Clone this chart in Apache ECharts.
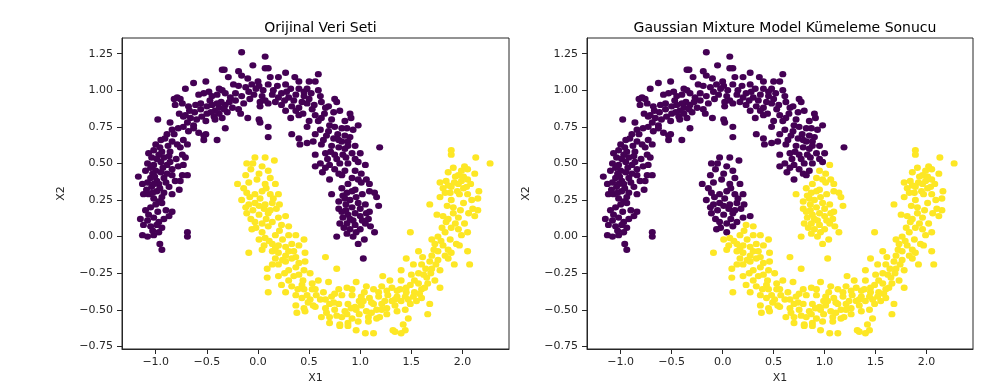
<!DOCTYPE html>
<html>
<head>
<meta charset="utf-8">
<script src="https://cdn.jsdelivr.net/npm/echarts@6/dist/echarts.min.js"></script>
<style>
html,body{margin:0;padding:0;background:#fff;}
#chart{width:1003px;height:389px;}
</style>
</head>
<body>
<div id="chart"></div>
<script>
// ---- Data ----
const titles = ['Orijinal Veri Seti', 'Gaussian Mixture Model Kümeleme Sonucu'];
const xName = 'X1';
const yName = 'X2';
const xTicks = [-1.0, -0.5, 0.0, 0.5, 1.0, 1.5, 2.0];
const yTicks = [-0.75, -0.5, -0.25, 0.0, 0.25, 0.5, 0.75, 1.0, 1.25];

// upper moon, purple in both panels
const upperMain = [
[-0.16,1.26],[0.07,1.23],[-0.05,1.17],[-0.35,1.14],[-0.33,1.14],[-0.19,1.13],[0.07,1.15],[0.10,1.15],[0.27,1.12],[-0.51,1.06],[-0.63,1.05],[-0.71,1.01],[-0.79,0.95],[-0.82,0.94],[-0.98,0.80],
[-0.29,1.09],[-0.16,1.10],[-0.10,1.08],[0.00,1.06],[0.12,1.09],[0.20,1.09],[0.36,1.09],[0.40,1.06],[0.50,1.06],
[-0.48,0.99],[-0.38,1.01],[-0.35,1.00],[-0.24,1.04],[-0.19,1.03],[-0.12,1.02],[-0.06,1.04],[0.01,1.03],[0.10,1.04],[0.19,1.03],[0.27,1.04],[0.32,1.01],[0.40,1.01],[0.48,1.01],
[-0.58,0.97],[-0.53,0.98],[-0.45,0.96],[-0.40,0.97],[-0.32,0.98],[-0.27,0.95],[-0.22,0.98],[-0.16,0.96],[-0.09,0.99],[-0.04,0.97],[0.04,0.96],[0.14,0.97],[0.20,0.95],[0.23,0.98],[0.30,0.95],[0.37,0.97],[0.45,0.96],[0.50,0.94],[-0.76,0.94],
[-0.81,0.90],[-0.74,0.91],[-0.68,0.89],[-0.61,0.90],[-0.56,0.91],[-0.50,0.89],[-0.45,0.90],[-0.38,0.88],[-0.32,0.90],[-0.25,0.88],[-0.19,0.87],[0.02,0.89],[0.10,0.91],[0.23,0.90],[0.33,0.89],[0.40,0.88],[0.48,0.91],[0.53,0.87],[0.02,0.92],
[-0.77,0.84],[-0.73,0.82],[-0.66,0.81],[-0.56,0.87],[-0.55,0.82],[-0.50,0.84],[-0.43,0.82],[-0.38,0.84],[-0.35,0.81],[-0.17,0.84],[-0.10,0.81],[0.01,0.80],[0.02,0.78],[0.32,0.81],[0.40,0.83],[0.50,0.79],[-0.69,0.78],[-0.63,0.76],[-0.51,0.79],[-0.42,0.80],[0.48,0.75],
[-0.89,0.70],[-0.84,0.73],[-0.78,0.74],[-0.73,0.75],[-0.68,0.72],[-0.63,0.74],[-0.58,0.71],[-0.51,0.70],[-0.40,0.66],[-0.32,0.74],[0.10,0.75],[0.10,0.68],[0.33,0.70],[0.40,0.67],[0.48,0.64],[0.54,0.65],[-0.53,0.66],[-0.53,0.69],[0.41,0.63],
[-1.00,0.63],[-0.95,0.66],[-0.91,0.67],[-0.84,0.65],[-0.79,0.63],[-0.73,0.66],[-0.69,0.63],[-0.76,0.61],[-1.02,0.59],[-0.94,0.58],[-0.86,0.58],
[-1.07,0.57],[-1.04,0.54],[-0.97,0.56],[-0.92,0.54],[-0.87,0.55],[-0.80,0.53],[-0.74,0.56],[-0.71,0.54],[-1.08,0.50],[-1.02,0.49],[-0.95,0.51],[-0.89,0.49],[-0.84,0.46],[-0.78,0.48],[-0.73,0.49],[-1.00,0.45],
[-1.17,0.41],[-1.10,0.45],[-1.05,0.40],[-0.99,0.38],[-0.92,0.40],[-0.84,0.42],[-0.74,0.42],[-0.69,0.42],[-1.13,0.36],[-1.04,0.34],[-0.97,0.36],[-0.87,0.34],[-0.81,0.38],[-0.76,0.38],[-1.12,0.29],[-1.07,0.29],[-0.99,0.31],[-0.92,0.30],[-0.84,0.29],[-0.94,0.27],
[0.59,1.11],[0.56,1.06],[0.59,1.00],[0.61,0.96],[0.62,0.92],[0.75,0.94],[0.77,0.92],[0.69,0.89],[0.66,0.88],[0.74,0.85],[0.56,0.83],[0.62,0.81],[0.90,0.84],[0.91,0.81],[0.59,0.79],[0.70,0.76],[0.75,0.75],[0.61,0.73],[0.69,0.72],[0.82,0.74],[0.87,0.74],[0.98,0.76],[0.90,0.68],[0.56,0.70],[0.67,0.69],[0.74,0.67],[0.82,0.65],[0.88,0.65],[1.19,0.61],[0.62,0.63],[0.72,0.62],[0.79,0.61],[0.88,0.62],[1.00,0.57],[0.56,0.56],[0.66,0.57],[0.75,0.56],[0.83,0.56],[0.92,0.57],[0.61,0.50],[0.70,0.49],[0.80,0.50],[0.88,0.50],[0.98,0.51],[0.56,0.48],[0.66,0.47],[0.75,0.46],[0.85,0.45],[0.70,0.39],[0.82,0.42],
[-0.77,0.32],[-1.02,0.26],[-0.97,0.24],[-1.00,0.22],[-0.94,0.23],[-0.90,0.18],[-0.84,0.17],[-0.87,0.14],[-1.07,0.15],[-1.15,0.12],[-1.08,0.11],[-1.02,0.13],[-0.97,0.10],[-1.12,0.08],[-1.05,0.07],[-0.99,0.08],[-0.94,0.06],[-1.13,0.01],[-1.08,0.00],[-1.02,0.01],[-0.69,0.03],[-0.69,0.00],[-0.96,-0.05],[-0.94,-0.09],[-1.05,0.20],[-0.98,0.17],[-1.10,0.18],[-1.03,0.04],[-0.97,0.03],[-0.92,0.12],
[-0.47,0.93],[-0.42,0.86],[-0.36,0.92],[-0.30,0.85],[-0.28,0.92],[-0.46,0.85],[-0.40,0.91],[-0.33,0.87],[-0.22,0.93],[-0.14,0.91],[-0.08,0.94],[-0.02,1.01],[0.05,1.00],[0.07,0.93],[0.15,1.00],[0.17,0.92],[0.26,0.93],[0.28,0.99],[0.35,0.93],[0.43,0.92],[0.45,0.99],[0.52,0.98],[0.37,0.86],[0.44,0.84],[0.27,0.86],[0.55,0.90],[-0.62,0.85],[-0.60,0.80],[-0.67,0.86],[-0.71,0.83],[-0.86,0.78],[-0.82,0.70],[-0.88,0.62],[-0.96,0.61],[-0.99,0.53],[-0.93,0.47],[-0.86,0.51],[-1.05,0.47],[-1.03,0.43],[-0.95,0.44],[-0.89,0.43],[-1.08,0.37],[-1.01,0.41],[-0.90,0.37],[-1.09,0.32],[-1.02,0.36],[-1.03,0.30],[-0.96,0.33],
[0.65,0.84],[0.72,0.80],[0.80,0.86],[0.85,0.79],[0.78,0.70],[0.85,0.69],[0.93,0.73],[0.64,0.66],[0.71,0.58],[0.79,0.66],[0.85,0.60],[0.95,0.62],[0.68,0.53],[0.77,0.53],[0.86,0.54],[0.95,0.53],[0.79,0.43],[0.63,0.44]
];
// upper moon right end: purple in original, yellow in GMM result
const upperTail = [
[1.05,0.49],[0.95,0.45],[1.01,0.43],[0.92,0.40],[0.98,0.39],[1.06,0.39],[0.88,0.36],[1.01,0.37],[1.09,0.36],[0.87,0.30],[1.09,0.31],
[0.72,0.29],[0.83,0.28],[0.92,0.31],[0.95,0.32],[1.14,0.30],[1.16,0.27],[0.79,0.24],[0.85,0.26],[0.98,0.23],[1.05,0.22],[1.18,0.21],[0.79,0.19],[0.88,0.15],[0.83,0.13],[0.80,0.09],[0.87,0.09],[0.93,0.11],[1.00,0.14],[1.05,0.09],[1.09,0.17],[0.96,0.03],[1.14,0.03],[0.77,0.00],[0.93,0.00],[0.98,-0.05],[1.04,-0.02],[1.03,-0.15],
[0.90,0.12],[0.95,0.08],[1.02,0.11],[0.86,0.18],[0.92,0.20],[1.00,0.19],[1.08,0.12],[0.84,0.06],
[0.82,0.33],[0.90,0.25],[0.96,0.27],[1.02,0.29],[0.86,0.22],[0.95,0.16],[1.06,0.16],[0.82,0.17],[0.90,0.05],[1.00,0.05],[1.10,0.07],[0.87,0.02]
];
// lower moon left end: yellow in original, purple in GMM result
const lowerTail = [
[-0.03,0.54],[0.07,0.54],[-0.11,0.50],[0.16,0.52],[-0.07,0.46],[0.01,0.43],[0.10,0.45],[-0.20,0.36],[-0.09,0.37],[-0.01,0.39],[0.07,0.36],[0.17,0.36],[-0.11,0.30],[-0.03,0.29],[0.04,0.31],[0.12,0.29],[0.20,0.29],
[-0.16,0.25],[-0.09,0.22],[-0.03,0.23],[0.07,0.22],[0.14,0.23],[-0.11,0.16],[0.01,0.15],[0.10,0.16],[0.20,0.13],[0.27,0.14],[-0.03,0.10],[0.04,0.09],[0.14,0.10],[-0.06,0.05],[0.04,0.03],[0.10,0.07],
[-0.05,0.18],[0.06,0.19],[0.02,0.26],[-0.07,0.12],[0.18,0.19],[0.08,0.12],
[-0.12,0.42],[-0.05,0.50],[0.04,0.48],[0.12,0.40],[-0.14,0.33],[0.08,0.33],[-0.08,0.27],[0.15,0.26],[0.01,0.21],[-0.12,0.20],[0.12,0.18],[-0.02,0.06],[0.21,0.22]
];
// lower moon, yellow in both panels
const lowerMain = [
[0.23,0.08],[0.17,0.01],[0.30,0.07],[0.30,0.01],[0.37,0.01],[0.45,-0.02],[0.01,-0.02],[0.07,-0.01],[0.14,-0.05],[0.20,-0.06],[0.27,-0.07],[0.33,-0.05],[0.40,-0.06],[-0.09,-0.11],[0.04,-0.09],[0.14,-0.10],[0.20,-0.11],[0.27,-0.13],[0.35,-0.10],[0.46,-0.11],[0.17,-0.15],[0.27,-0.17],[0.33,-0.15],[0.40,-0.18],[0.46,-0.17],[0.09,-0.22],[0.20,-0.19],[0.30,-0.23],[0.37,-0.21],[0.45,-0.23],[0.09,-0.28],[0.20,-0.27],[0.30,-0.30],[0.40,-0.26],[0.51,-0.25],[0.23,-0.33],[0.33,-0.34],[0.43,-0.33],[0.53,-0.32],[0.10,-0.38],[0.27,-0.38],[0.37,-0.40],[0.45,-0.36],[0.53,-0.36],[0.43,-0.42],[0.51,-0.43],[0.37,-0.47],[0.45,-0.49],[0.54,-0.47],[0.38,-0.52],[0.46,-0.51],
[1.89,0.59],[1.89,0.56],[2.13,0.54],[2.27,0.50],[1.91,0.47],[2.02,0.48],[2.05,0.46],[1.86,0.44],[1.96,0.42],[2.01,0.41],[2.12,0.43],[1.78,0.37],[1.84,0.38],[1.92,0.37],[1.99,0.38],[2.05,0.39],[1.81,0.33],[1.89,0.34],[1.96,0.36],[2.04,0.34],[1.88,0.30],[1.97,0.29],[2.05,0.29],[2.16,0.31],[1.78,0.27],
[1.68,0.22],[1.89,0.25],[2.01,0.23],[2.09,0.25],[2.15,0.26],[2.10,0.19],[2.15,0.18],[1.75,0.15],[1.81,0.14],[1.84,0.10],[1.91,0.16],[1.96,0.13],[2.02,0.09],[2.12,0.14],[1.49,0.03],[1.70,-0.02],[1.76,0.00],[1.83,0.03],[1.89,0.06],[1.96,0.05],[1.99,0.01],[2.05,0.03],[1.73,-0.05],[1.81,-0.06],[1.88,-0.02],[1.94,-0.05],[1.97,-0.06],[2.05,-0.10],[1.57,-0.10],[1.61,-0.14],[1.70,-0.13],[1.76,-0.10],[1.83,-0.13],[1.89,-0.11],[1.68,-0.17],[1.76,-0.16],[1.86,-0.15],[1.92,-0.19],[2.07,-0.19],[1.45,-0.15],[1.52,-0.19],[1.60,-0.19],[1.70,-0.22],[1.78,-0.23],[0.66,-0.14],[0.77,-0.22],[1.40,-0.23],[1.50,-0.26],[1.57,-0.25],[1.65,-0.28],[1.73,-0.30],[1.22,-0.27],[1.29,-0.30],[1.40,-0.30],[1.49,-0.33],[1.57,-0.32],[1.66,-0.32],[1.78,-0.35],
[0.59,-0.30],[0.69,-0.31],[0.79,-0.36],[0.87,-0.35],[0.96,-0.31],[1.06,-0.34],[1.13,-0.36],[1.21,-0.34],[1.31,-0.35],[1.39,-0.36],[1.45,-0.35],[1.53,-0.38],[1.60,-0.36],[0.56,-0.36],[0.64,-0.38],[0.72,-0.41],[0.82,-0.40],[0.92,-0.40],[1.01,-0.41],[1.09,-0.42],[1.18,-0.41],[1.27,-0.40],[1.36,-0.41],[1.44,-0.41],[1.52,-0.41],[1.60,-0.42],[0.61,-0.43],[0.70,-0.46],[0.79,-0.46],[0.88,-0.46],[0.95,-0.48],[1.03,-0.44],[1.13,-0.46],[1.21,-0.46],[1.31,-0.44],[1.40,-0.44],[1.49,-0.46],[1.68,-0.46],[0.56,-0.48],[0.66,-0.49],[0.75,-0.50],[0.85,-0.51],[0.96,-0.50],[1.06,-0.51],[1.16,-0.50],[1.26,-0.49],[1.34,-0.47],[1.44,-0.50],[0.62,-0.55],[0.70,-0.55],[0.82,-0.55],[0.92,-0.56],[0.99,-0.53],[1.08,-0.55],[1.16,-0.56],[1.26,-0.53],[1.36,-0.51],[1.66,-0.53],[0.70,-0.59],[0.80,-0.60],[0.88,-0.59],[0.98,-0.58],[1.08,-0.58],[1.19,-0.55],[1.47,-0.56],[0.80,-0.61],[0.88,-0.61],[0.96,-0.64],[1.05,-0.66],[1.13,-0.66],[1.32,-0.64],[1.42,-0.60],[1.44,-0.64],[1.34,-0.65],[1.40,-0.66],
[0.21,0.04],[0.11,-0.03],[0.24,-0.02],[0.06,-0.06],[0.17,-0.08],[0.30,-0.10],[0.24,-0.16],[0.37,-0.14],[0.14,-0.19],[0.35,-0.27],[0.26,-0.25],[0.44,-0.30],[0.48,-0.40],[0.39,-0.36],[0.49,-0.45],[0.57,-0.40],[0.66,-0.43],[0.74,-0.45],[0.67,-0.52],[0.77,-0.54],[0.87,-0.53],[0.91,-0.49],[1.01,-0.47],[1.11,-0.52],[1.21,-0.50],[1.11,-0.45],[1.24,-0.44],[1.34,-0.43],[1.47,-0.43],[1.55,-0.44],[1.58,-0.39],[1.63,-0.35],[1.45,-0.38],[1.36,-0.37],[1.53,-0.30],[1.62,-0.26],[1.69,-0.25],[1.74,-0.19],[1.64,-0.22],[1.72,-0.09],[1.79,-0.03],[1.86,-0.09],[1.80,0.06],[1.86,0.12],[1.93,0.09],[1.91,0.20],[1.98,0.18],[2.06,0.16],[1.85,0.21],[1.95,0.31],[2.01,0.33],[1.93,0.41],[1.86,0.35],[2.08,0.36],[1.83,0.30],[1.99,0.45],[1.04,-0.38],[0.92,-0.36],[0.75,-0.39],[1.18,-0.38],[1.26,-0.37],[0.99,-0.44]
];

// ---- Chart ----
const PURPLE = '#440154', YELLOW = '#fde725';
const FONT = 'DejaVu Sans';
const TXT = '#262626';
const fmt = (d) => (v) => (v < 0 ? '\u2212' : '') + Math.abs(v).toFixed(d);

const grids = [
  {left: 122, top: 38, width: 387, height: 311},
  {left: 587, top: 38, width: 386, height: 311}
];
function xAx(i){
  return {gridIndex:i, type:'value', min:-1.33, max:2.455, name:xName, nameLocation:'middle', nameGap:18,
    nameTextStyle:{fontFamily:FONT, fontSize:11, color:TXT},
    axisLine:{show:true, onZero:false, lineStyle:{color:TXT, width:1}},
    axisTick:{show:true, length:5, customValues:xTicks, lineStyle:{color:TXT, width:1}},
    axisLabel:{customValues:xTicks, formatter:fmt(1), fontFamily:FONT, fontSize:11, color:TXT, margin:8},
    splitLine:{show:false}};
}
function yAx(i){
  return {gridIndex:i, type:'value', min:-0.768, max:1.357, name:yName, nameLocation:'middle', nameGap:55,
    nameTextStyle:{fontFamily:FONT, fontSize:11, color:TXT},
    axisLine:{show:true, onZero:false, lineStyle:{color:TXT, width:1}},
    axisTick:{show:true, length:5, customValues:yTicks, lineStyle:{color:TXT, width:1}},
    axisLabel:{customValues:yTicks, formatter:fmt(2), fontFamily:FONT, fontSize:11, color:TXT, margin:9},
    splitLine:{show:false}};
}
function sc(i, data, color){
  return {type:'scatter', xAxisIndex:i, yAxisIndex:i, data:data, symbol:'circle', symbolSize:[7,6.4],
    itemStyle:{color:color, opacity:1}, silent:true, animation:false};
}
const chart = echarts.init(document.getElementById('chart'), null, {renderer:'canvas'});
chart.setOption({
  backgroundColor:'#fff',
  animation:false,
  title: titles.map((t, i) => ({text:t, left: grids[i].left + grids[i].width/2, top:16, textAlign:'center',
    textStyle:{fontFamily:FONT, fontSize:14, fontWeight:'normal', color:'#000'}})),
  grid: grids.map(g => Object.assign({show:true, borderColor:TXT, borderWidth:1, backgroundColor:'transparent', containLabel:false}, g)),
  xAxis:[xAx(0), xAx(1)],
  yAxis:[yAx(0), yAx(1)],
  series:[
    sc(0, upperMain.concat(upperTail), PURPLE),
    sc(0, lowerTail.concat(lowerMain), YELLOW),
    sc(1, upperMain.concat(lowerTail), PURPLE),
    sc(1, upperTail.concat(lowerMain), YELLOW)
  ]
});
</script>
</body>
</html>
